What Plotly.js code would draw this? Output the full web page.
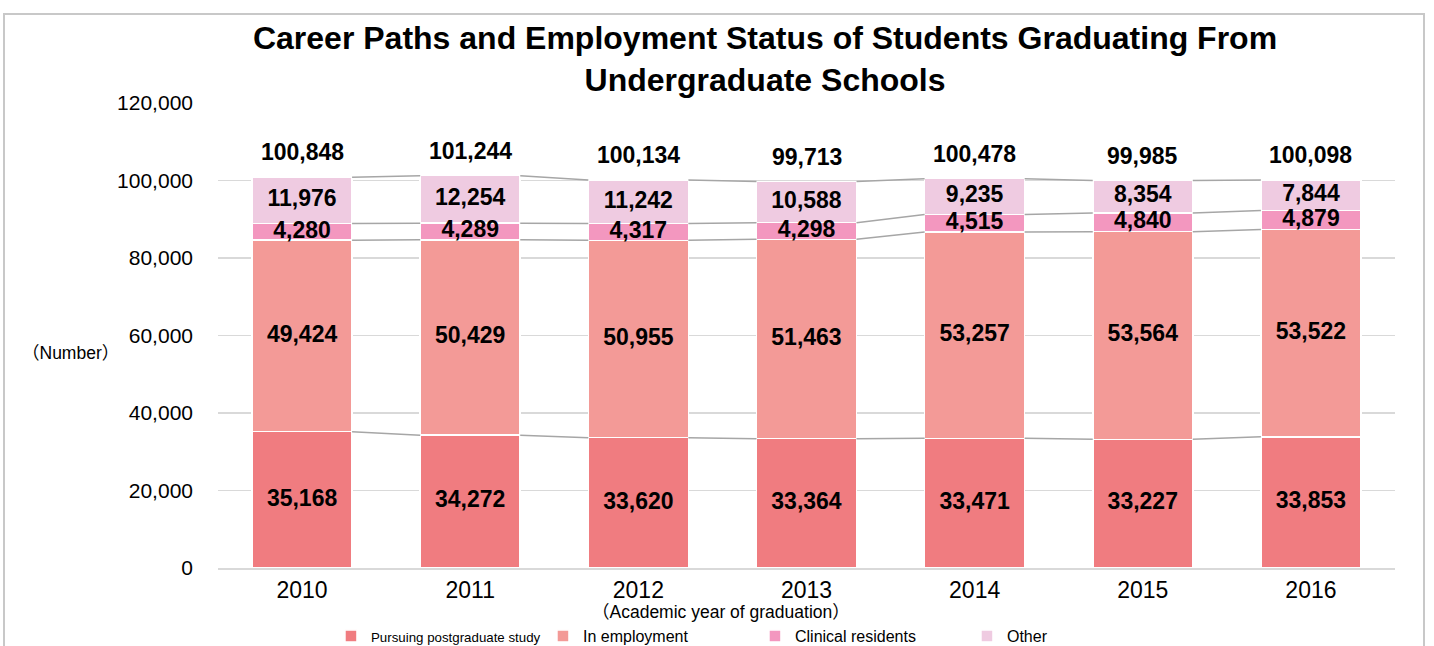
<!DOCTYPE html>
<html>
<head>
<meta charset="utf-8">
<script src="https://cdn.plot.ly/plotly-3.0.1.min.js"></script>
<style>
  html, body { margin: 0; padding: 0; background: #fff; }
  #wrap { position: relative; width: 1434px; height: 646px; overflow: hidden; }
  #chart { width: 1434px; height: 646px; }
  #frame { position: absolute; left: 3px; top: 13px; width: 1418px; height: 700px;
           border: 2px solid #c8c8c8; pointer-events: none; }
</style>
</head>
<body>
<div id="wrap">
  <div id="chart"></div>
  <div id="frame"></div>
</div>
<script>
const years = ['2010', '2011', '2012', '2013', '2014', '2015', '2016'];
const pursuing = [35168, 34272, 33620, 33364, 33471, 33227, 33853];
const employment = [49424, 50429, 50955, 51463, 53257, 53564, 53522];
const clinical = [4280, 4289, 4317, 4298, 4515, 4840, 4879];
const other = [11976, 12254, 11242, 10588, 9235, 8354, 7844];
const totals = [100848, 101244, 100134, 99713, 100478, 99985, 100098];
const seriesNames = ['Pursuing postgraduate study', 'In employment', 'Clinical residents', 'Other'];
const colors = ['#F07C80', '#F39A97', '#F397BF', '#EFCBE1'];

const FONT = 'Liberation Sans, Arial, Noto Sans CJK JP, sans-serif';
const BAR_W = 0.595;
const xs = years.map((_, i) => i);
const series = [pursuing, employment, clinical, other];
const fmt = v => v.toLocaleString('en-US');

const traces = [];
const legendNames = [
  '<span style="font-size:13.3px">' + seriesNames[0] + '</span>',
  seriesNames[1], seriesNames[2], seriesNames[3]
];
series.forEach((vals, k) => {
  traces.push({
    type: 'bar', x: xs, y: vals, name: legendNames[k], width: BAR_W,
    marker: { color: colors[k], line: { color: '#ffffff', width: 1.5 } },
    textposition: 'none', hoverinfo: 'y'
  });
});

// cumulative stacks
const cum = [];
let run = years.map(() => 0);
series.forEach(vals => {
  const base = run.slice();
  run = run.map((r, i) => r + vals[i]);
  cum.push({ base: base, top: run.slice() });
});

// series lines connecting segment tops between adjacent bars
cum.forEach(c => {
  const lx = [], ly = [];
  for (let i = 0; i < years.length - 1; i++) {
    lx.push(i + BAR_W / 2, i + 1 - BAR_W / 2, null);
    ly.push(c.top[i], c.top[i + 1], null);
  }
  traces.push({
    type: 'scatter', mode: 'lines', x: lx, y: ly, showlegend: false,
    hoverinfo: 'skip', line: { color: '#a6a6a6', width: 1.5 }
  });
});

// segment value labels
series.forEach((vals, k) => {
  traces.push({
    type: 'scatter', mode: 'text', x: xs,
    y: vals.map((v, i) => cum[k].base[i] + v / 2),
    text: vals.map(v => '<b>' + fmt(v) + '</b>'),
    textposition: 'middle center', showlegend: false, hoverinfo: 'skip',
    textfont: { family: FONT, size: 23, color: '#000' }
  });
});

const annotations = totals.map((t, i) => ({
  x: i, y: t, xref: 'x', yref: 'y', text: '<b>' + fmt(t) + '</b>',
  showarrow: false, yanchor: 'bottom', yshift: 10,
  font: { family: FONT, size: 23, color: '#000' }
}));
annotations.push({
  xref: 'paper', yref: 'paper', x: -0.1249, y: 0.462, xanchor: 'center', yanchor: 'middle',
  text: '（Number）', showarrow: false, font: { family: FONT, size: 17.5, color: '#000' }
});
annotations.push({
  xref: 'paper', yref: 'paper', x: 0.427, y: -0.094, xanchor: 'center', yanchor: 'middle',
  text: '（Academic year of graduation）', showarrow: false,
  font: { family: FONT, size: 17.5, color: '#000' }
});

const layout = {
  width: 1434, height: 646,
  margin: { l: 218, r: 39, t: 103, b: 78 },
  paper_bgcolor: '#fff', plot_bgcolor: '#fff',
  font: { family: FONT, color: '#000' },
  title: {
    text: '<b>Career Paths and Employment Status of Students Graduating From<br>Undergraduate Schools</b>',
    x: 0.5335, xref: 'container', xanchor: 'center',
    y: 0.924, yref: 'container', yanchor: 'middle',
    font: { family: FONT, size: 32, color: '#000' }
  },
  barmode: 'stack',
  showlegend: true,
  legend: {
    orientation: 'h', xref: 'container', yref: 'container',
    x: 0.2308, xanchor: 'left', y: 0.0155, yanchor: 'middle',
    font: { family: FONT, size: 16, color: '#000' },
    entrywidth: 167, entrywidthmode: 'pixels', traceorder: 'normal'
  },
  xaxis: {
    range: [-0.5, 6.5], tickmode: 'array', tickvals: xs, ticktext: years,
    showgrid: false, zeroline: false, showline: true, linecolor: '#d9d9d9', linewidth: 2,
    tickfont: { family: FONT, size: 23, color: '#000' }, ticks: '', fixedrange: true,
    automargin: false
  },
  yaxis: {
    range: [0, 120000], dtick: 20000, tickformat: ',d',
    showgrid: true, gridcolor: '#d9d9d9', gridwidth: 1.5, zeroline: false,
    tickfont: { family: FONT, size: 21, color: '#000' }, ticklabelstandoff: 24,
    fixedrange: true, automargin: false
  },
  annotations: annotations
};

Plotly.newPlot('chart', traces, layout, { displayModeBar: false, staticPlot: true });
</script>
</body>
</html>
